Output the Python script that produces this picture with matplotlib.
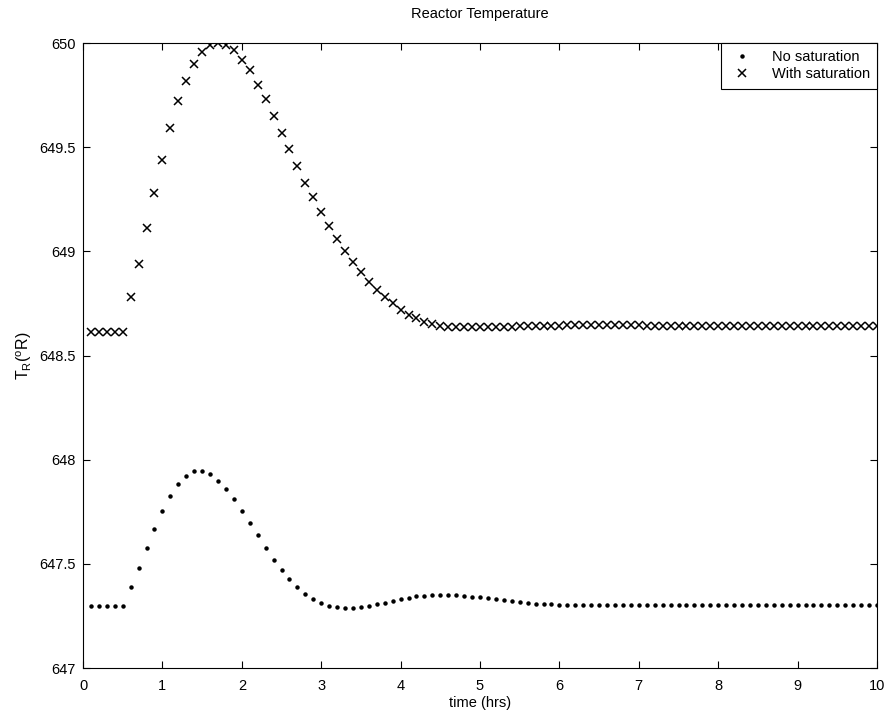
import numpy as np
import matplotlib.pyplot as plt

plt.rcParams['font.family'] = ['Liberation Sans', 'DejaVu Sans']
plt.rcParams['mathtext.default'] = 'regular'

# time samples (hrs)
t = np.round(np.arange(1, 101) * 0.1, 1)

# reactor temperature without saturation (deg R)
T_nosat = [
    647.30, 647.30, 647.30, 647.30, 647.30,
    647.39, 647.48, 647.575, 647.667, 647.754,
    647.826, 647.883, 647.92, 647.944, 647.944,
    647.93, 647.90, 647.86, 647.81, 647.755,
    647.696, 647.637, 647.578, 647.52, 647.47,
    647.426, 647.39, 647.357, 647.33, 647.312,
    647.298, 647.293, 647.29, 647.29, 647.295,
    647.30, 647.307, 647.313, 647.322, 647.33,
    647.337, 647.344, 647.347, 647.35, 647.35,
    647.35, 647.349, 647.346, 647.343, 647.339,
    647.336, 647.331, 647.325, 647.32, 647.315,
    647.312, 647.309, 647.307, 647.305, 647.304,
    647.303, 647.303, 647.303, 647.303, 647.303,
    647.303, 647.303, 647.303, 647.304, 647.304,
    647.304, 647.304, 647.304, 647.304, 647.304,
    647.304, 647.304, 647.304, 647.304, 647.304,
    647.304, 647.304, 647.304, 647.304, 647.304,
    647.304, 647.304, 647.304, 647.304, 647.304,
    647.304, 647.304, 647.304, 647.304, 647.304,
    647.304, 647.304, 647.304, 647.304, 647.304,
]

# reactor temperature with saturation (deg R)
T_sat = [
    648.615, 648.615, 648.615, 648.615, 648.615,
    648.78, 648.94, 649.11, 649.28, 649.44,
    649.59, 649.72, 649.82, 649.90, 649.955,
    649.99, 650.0, 649.99, 649.965, 649.92,
    649.87, 649.80, 649.73, 649.65, 649.57,
    649.49, 649.41, 649.33, 649.26, 649.19,
    649.12, 649.06, 649.00, 648.95, 648.90,
    648.855, 648.814, 648.782, 648.75, 648.72,
    648.697, 648.678, 648.66, 648.65, 648.642,
    648.638, 648.636, 648.635, 648.635, 648.635,
    648.636, 648.637, 648.638, 648.639, 648.64,
    648.641, 648.642, 648.643, 648.644, 648.644,
    648.645, 648.645, 648.645, 648.645, 648.645,
    648.645, 648.645, 648.645, 648.645, 648.645,
    648.644, 648.644, 648.644, 648.644, 648.643,
    648.643, 648.643, 648.642, 648.642, 648.642,
    648.641, 648.641, 648.641, 648.641, 648.641,
    648.64, 648.64, 648.64, 648.64, 648.64,
    648.64, 648.64, 648.64, 648.64, 648.64,
    648.64, 648.64, 648.64, 648.64, 648.64,
]

fig = plt.figure(figsize=(8.89, 7.18), dpi=100)
ax = fig.add_axes([0.0934, 0.0696, 0.8931, 0.8704])

ax.plot(t, T_nosat, linestyle='none', marker='o', markersize=2.2,
        color='black', label='No saturation')
ax.plot(t, T_sat, linestyle='none', marker='x', markersize=5.5,
        markeredgewidth=1.1, color='black', label='With saturation')

ax.set_xlim(0, 10)
ax.set_ylim(647, 650)
ax.set_xticks(range(0, 11))
ax.set_yticks([647, 647.5, 648, 648.5, 649, 649.5, 650])
ax.set_yticklabels(['647', '647.5', '648', '648.5', '649', '649.5', '650'])
ax.tick_params(direction='in', top=True, right=True, labelsize=10.5, length=5)
ax.tick_params(axis='x', pad=8)
ax.tick_params(axis='y', pad=5)

ax.set_title('Reactor Temperature', fontsize=10.5, pad=18)
ax.set_xlabel('time (hrs)', fontsize=10.5, labelpad=2)
ax.set_ylabel(r'T$_R$($^o$R)', fontsize=11.5, labelpad=4)

leg = ax.legend(loc='upper right', fontsize=10.5, fancybox=False,
                framealpha=1, edgecolor='black', borderaxespad=0,
                handlelength=2.0, handletextpad=1.0, borderpad=0.5,
                labelspacing=0.2)
leg.get_frame().set_linewidth(0.8)

fig.savefig('out.png', dpi=100)
